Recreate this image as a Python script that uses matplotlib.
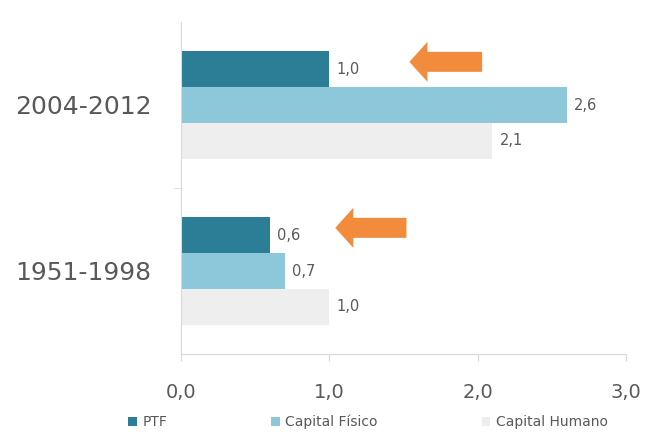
import numpy as np
import matplotlib
matplotlib.use("Agg")
import matplotlib.pyplot as plt

# data
periods = ["1951-1998", "2004-2012"]
ptf = [0.6, 1.0]
cap_fisico = [0.7, 2.6]
cap_humano = [1.0, 2.1]
series_names = ["PTF", "Capital Físico", "Capital Humano"]
colors = ["#2B7E95", "#8DC8DA", "#EEEEEE"]
xticks = [0.0, 1.0, 2.0, 3.0]

plt.rcParams['font.family'] = ['DejaVu Sans']
txt = "#595959"

fig = plt.figure(figsize=(6.47, 4.34), dpi=100)
ax = fig.add_axes([181 / 647, 1 - 354 / 434, 445 / 647, 332 / 434])

y = np.arange(len(periods))
h = 0.215
rows = [ptf, cap_fisico, cap_humano]
for i, (vals, name, c) in enumerate(zip(rows, series_names, colors)):
    bars = ax.barh(y + (1 - i) * h, vals, height=h, color=c, label=name)
    ax.bar_label(bars, labels=[f"{v:.1f}".replace(".", ",") for v in vals],
                 padding=5, fontsize=10.5, color=txt)

# orange arrows pointing at the PTF values
for yi, (tip, tail) in zip(y, [(1.04, 1.52), (1.54, 2.03)]):
    ax.annotate("", xy=(tip, yi + h + 0.045), xytext=(tail, yi + h + 0.045),
                arrowprops=dict(arrowstyle="simple,head_width=2,head_length=0.9,tail_width=1",
                                mutation_scale=14.4, color="#F28C3C", lw=0,
                                shrinkA=0, shrinkB=0))

ax.set_xlim(0, 3)
ax.set_ylim(-0.5, 1.5)
ax.set_xticks(xticks)
ax.set_xticklabels([f"{v:.1f}".replace(".", ",") for v in xticks], fontsize=14, color=txt)
ax.set_yticks(y)
ax.set_yticklabels(periods, fontsize=18, color=txt)
ax.set_yticks([0.5], minor=True)
ax.tick_params(axis="y", which="major", length=0, pad=21)
ax.tick_params(axis="y", which="minor", length=5, color="#D9D9D9")
ax.tick_params(axis="x", length=5, color="#D9D9D9", pad=16)

for side in ["top", "right"]:
    ax.spines[side].set_visible(False)
for side in ["left", "bottom"]:
    ax.spines[side].set_color("#D9D9D9")

fig.legend(loc="center", bbox_to_anchor=(368 / 647, 12 / 434), ncol=3, frameon=False,
           fontsize=10, labelcolor=txt, handlelength=0.6, handleheight=0.6,
           handletextpad=0.4, columnspacing=7.5)

fig.savefig("out.png", dpi=100)
